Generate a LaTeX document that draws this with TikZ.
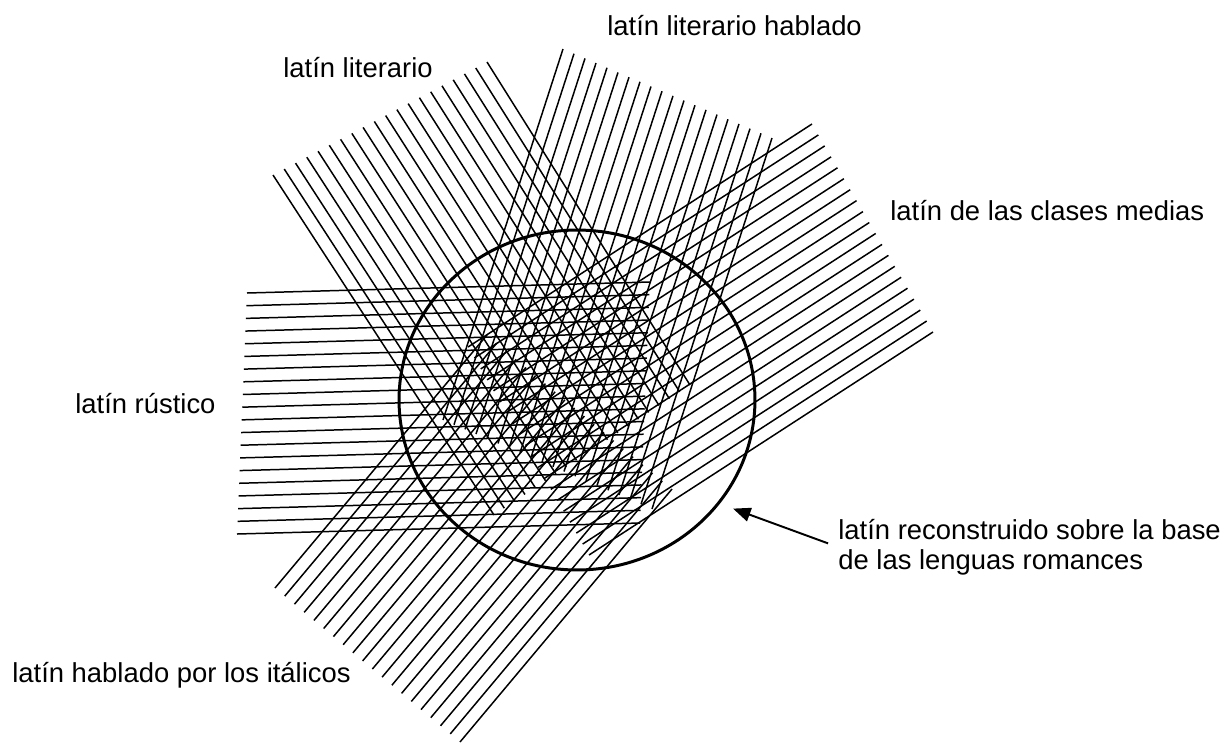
\documentclass[tikz,border=0pt]{standalone}
\usepackage{fontspec}
\setmainfont{Liberation Sans}
\usetikzlibrary{arrows.meta, calc, shapes.geometric}

\begin{document}
\begin{tikzpicture}[
    x=0.02cm, y=-0.02cm,
    hatch/.style={line width=0.85pt},
    rim/.style={draw, ellipse, line width=1.7pt, minimum width=7.12cm,
                minimum height=6.8cm, inner sep=0},
    lbl/.style={font=\fontsize{15.6}{17}\selectfont, inner sep=0, anchor=base west},
    arr/.style={-{Triangle[length=3.5mm, width=2.8mm]}, line width=1.1pt}
]
\useasboundingbox (0,0) rectangle (1225,745);

% Band ends: A/B outer ends of first/last line, C/D inner ends
\coordinate (rusA) at (247,293); \coordinate (rusB) at (237,534);
\coordinate (rusC) at (650,282); \coordinate (rusD) at (640,523);

\coordinate (litA) at (273,175); \coordinate (litB) at (487,62);
\coordinate (litC) at (494,515); \coordinate (litD) at (690,385);

\coordinate (habA) at (563,49);  \coordinate (habB) at (772,138);
\coordinate (habC) at (443,420); \coordinate (habD) at (652,509);

\coordinate (medA) at (812,124); \coordinate (medB) at (933,332);
\coordinate (medC) at (468,347); \coordinate (medD) at (589,555);

\coordinate (itaA) at (275,588); \coordinate (itaB) at (460,742);
\coordinate (itaC) at (487,335); \coordinate (itaD) at (672,489);

% Hatched bands, 20 lines each
\foreach \k in {0,...,19} {
    \draw[hatch] ($(rusA)!\k/19!(rusB)$) -- ($(rusC)!\k/19!(rusD)$);
    \draw[hatch] ($(litA)!\k/19!(litB)$) -- ($(litC)!\k/19!(litD)$);
    \draw[hatch] ($(habA)!\k/19!(habB)$) -- ($(habC)!\k/19!(habD)$);
    \draw[hatch] ($(medA)!\k/19!(medB)$) -- ($(medC)!\k/19!(medD)$);
    \draw[hatch] ($(itaA)!\k/19!(itaB)$) -- ($(itaC)!\k/19!(itaD)$);
}

% Reconstructed Latin
\node[rim] (latin) at (577,400) {};

% Labels
\node[lbl] (hablado) at (607,35)  {latín literario hablado};
\node[lbl] (literario) at (283,77) {latín literario};
\node[lbl] (medias) at (890,220) {latín de las clases medias};
\node[lbl] (rustico) at (75,413) {latín rústico};
\node[lbl] (italicos) at (12,682) {latín hablado por los itálicos};
\node[lbl, anchor=west, align=left] (recon) at (838,547)
    {latín reconstruido sobre la base\\de las lenguas romances};

\draw[arr, shorten <=6pt, shorten >=8pt] (recon.west) -- (latin.-36);
\end{tikzpicture}
\end{document}
